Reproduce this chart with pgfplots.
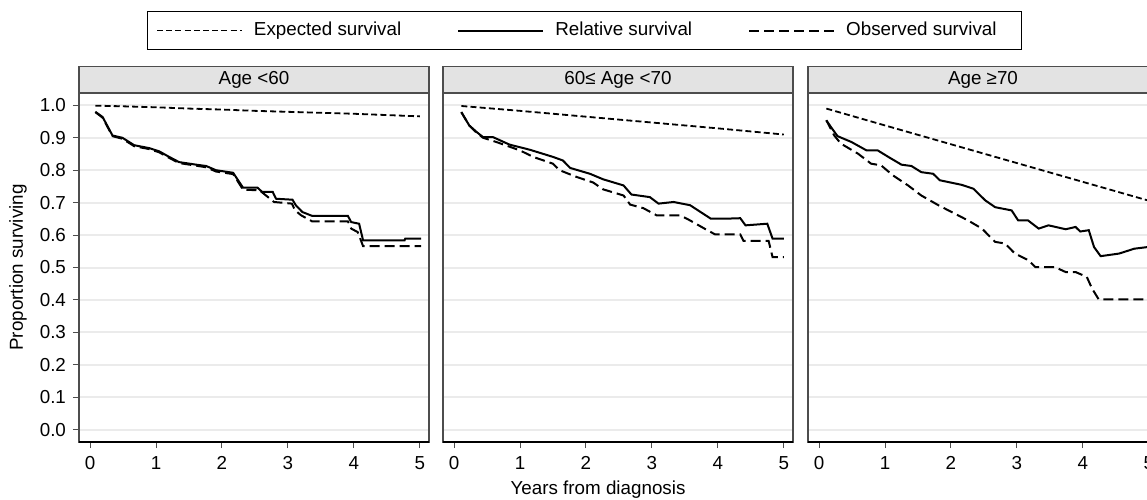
\documentclass[border=0pt]{standalone}
\usepackage{fontspec}
\setmainfont{Liberation Sans}
\usepackage{pgfplots}
\pgfplotsset{compat=1.18}

\definecolor{stripfill}{HTML}{E3E3E3}
\definecolor{framegray}{HTML}{4D4D4D}
\definecolor{gridgray}{HTML}{EBEBEB}

\pgfplotsset{
  panel/.style={
    scale only axis, width=175pt, height=174.5pt,
    xmin=-0.168, xmax=5.14, ymin=-0.038, ymax=1.038,
    xtick={0,1,2,3,4,5},
    ytick={0,0.1,0.2,0.3,0.4,0.5,0.6,0.7,0.8,0.9,1},
    ymajorgrids, major grid style={gridgray, line width=1pt},
    axis line style={framegray, line width=0.7pt},
    tick align=outside, xtick pos=bottom, ytick pos=left,
    major tick length=3pt,
    tick style={framegray, line width=0.5pt},
    x tick label style={yshift=-0.7pt},
    /pgf/number format/assume math mode=true,
    every axis title shift=0pt,
    title style={at={(0.5,1)}, anchor=south, draw=framegray, fill=stripfill,
      line width=0.6pt, minimum width=175pt, minimum height=13pt, inner sep=0pt},
    after end axis/.code={
      \draw[black, line width=1.1pt] (rel axis cs:0,0) -- (rel axis cs:1,0);
      \draw[framegray, line width=1.1pt] (rel axis cs:0,1) -- (rel axis cs:1,1);
    },
  },
  noy/.style={ytick style={draw=none}, yticklabels={}},
  expected/.style={black, line width=0.9pt, dash pattern=on 3pt off 1.6pt},
  relative/.style={black, line width=1pt},
  observed/.style={black, line width=1pt, dash pattern=on 5pt off 2.5pt},
}

\begin{document}
\begin{tikzpicture}[font=\fontsize{9.4}{11}\selectfont]

% Age < 60
\begin{axis}[panel, at={(39.5pt,-221pt)}, anchor=south west,
  title={Age <60},
  ylabel={Proportion surviving},
  ylabel style={at={(axis description cs:-0.1743,0.5)}, anchor=center},
  yticklabel style={/pgf/number format/.cd, fixed, fixed zerofill, precision=1}]
\addplot[expected] coordinates {
  (0.08,0.999) (0.5,0.997) (1,0.994) (1.5,0.990) (2,0.987) (2.5,0.983)
  (3,0.980) (3.5,0.977) (4,0.974) (4.5,0.970) (5,0.966)};
\addplot[relative] coordinates {
  (0.08,0.980) (0.19,0.964) (0.34,0.907) (0.49,0.900) (0.67,0.877) (0.90,0.868)
  (1.05,0.858) (1.20,0.841) (1.35,0.825) (1.61,0.817) (1.76,0.813) (1.91,0.800)
  (2.17,0.792) (2.32,0.746) (2.54,0.746) (2.61,0.733) (2.77,0.733) (2.82,0.712)
  (3.07,0.709) (3.12,0.692) (3.22,0.671) (3.37,0.659) (3.91,0.659) (3.96,0.640)
  (4.08,0.635) (4.14,0.584) (4.77,0.584) (4.78,0.589) (5.02,0.589)};
\addplot[observed] coordinates {
  (0.08,0.979) (0.19,0.962) (0.34,0.905) (0.49,0.897) (0.67,0.874) (0.90,0.865)
  (1.05,0.855) (1.20,0.838) (1.35,0.822) (1.61,0.814) (1.76,0.809) (1.91,0.796)
  (2.17,0.788) (2.32,0.740) (2.57,0.738) (2.79,0.702) (3.06,0.697) (3.11,0.676)
  (3.20,0.661) (3.37,0.642) (3.91,0.642) (3.96,0.620) (4.06,0.609) (4.14,0.566)
  (5.02,0.566)};
\end{axis}

% 60 <= Age < 70
\begin{axis}[panel, noy, at={(221.5pt,-221pt)}, anchor=south west,
  title={60≤ Age <70},
  xlabel={Years from diagnosis},
  xlabel style={at={(axis description cs:0.443,-0.1375)}, anchor=center},
  legend columns=3,
  legend image code/.code={\draw[#1] (0pt,0pt) -- (42.5pt,0pt);},
  legend style={at={(axis description cs:0.404,1.179)}, anchor=center,
    draw=black, line width=0.6pt, column sep=5.5pt,
    /tikz/every even column/.append style={column sep=28pt},
    inner xsep=4.5pt, inner ysep=4.2pt,
    nodes={inner xsep=0pt, inner ysep=1pt}},
  legend cell align=left]
\addplot[expected] coordinates {
  (0.11,0.998) (1,0.983) (2,0.965) (3,0.947) (4,0.929) (5,0.910)};
\addlegendentry{Expected survival}
\addplot[relative] coordinates {
  (0.11,0.979) (0.23,0.938) (0.34,0.918) (0.44,0.902) (0.59,0.902) (0.84,0.879)
  (1.15,0.863) (1.50,0.841) (1.65,0.830) (1.76,0.807) (2.06,0.789) (2.26,0.772)
  (2.57,0.753) (2.69,0.725) (2.97,0.717) (3.10,0.697) (3.33,0.702) (3.58,0.692)
  (3.89,0.651) (4.19,0.651) (4.34,0.652) (4.42,0.630) (4.75,0.635) (4.83,0.589)
  (5.00,0.589)};
\addlegendentry{Relative survival}
\addplot[observed] coordinates {
  (0.11,0.979) (0.23,0.938) (0.34,0.916) (0.44,0.900) (0.64,0.887) (1.00,0.861)
  (1.20,0.841) (1.50,0.820) (1.60,0.800) (1.86,0.779) (2.11,0.762) (2.26,0.741)
  (2.57,0.722) (2.67,0.694) (2.87,0.683) (3.07,0.661) (3.43,0.661) (3.58,0.645)
  (3.84,0.615) (3.96,0.602) (4.34,0.602) (4.39,0.582) (4.77,0.582) (4.83,0.532)
  (5.00,0.532)};
\addlegendentry{Observed survival\hspace*{8pt}}
\end{axis}

% Age >= 70
\begin{axis}[panel, noy, at={(404pt,-221pt)}, anchor=south west,
  title={Age ≥70}]
\addplot[expected] coordinates {
  (0.11,0.990) (1,0.938) (2,0.880) (3,0.822) (4,0.764) (5,0.706) (5.1,0.700)};
\addplot[relative] coordinates {
  (0.11,0.954) (0.18,0.933) (0.28,0.905) (0.49,0.887) (0.72,0.861) (0.89,0.861)
  (1.05,0.841) (1.25,0.817) (1.40,0.813) (1.55,0.794) (1.73,0.789) (1.83,0.769)
  (2.16,0.755) (2.34,0.743) (2.52,0.707) (2.67,0.686) (2.92,0.676) (3.02,0.645)
  (3.17,0.645) (3.33,0.620) (3.48,0.630) (3.74,0.618) (3.89,0.625) (3.96,0.611)
  (4.09,0.615) (4.17,0.563) (4.27,0.535) (4.55,0.543) (4.78,0.558) (4.98,0.563)
  (5.10,0.566)};
\addplot[observed] coordinates {
  (0.11,0.954) (0.23,0.907) (0.33,0.882) (0.59,0.851) (0.79,0.820) (0.94,0.815)
  (1.12,0.784) (1.35,0.753) (1.55,0.722) (1.81,0.692) (2.01,0.671) (2.26,0.645)
  (2.47,0.620) (2.67,0.579) (2.82,0.574) (2.97,0.543) (3.18,0.522) (3.28,0.501)
  (3.58,0.501) (3.74,0.486) (3.89,0.486) (4.06,0.471) (4.14,0.435) (4.24,0.402)
  (5.10,0.402)};
\end{axis}

\pgfresetboundingbox
\path (0,0) rectangle (573.5pt,-249.5pt);
\end{tikzpicture}
\end{document}
